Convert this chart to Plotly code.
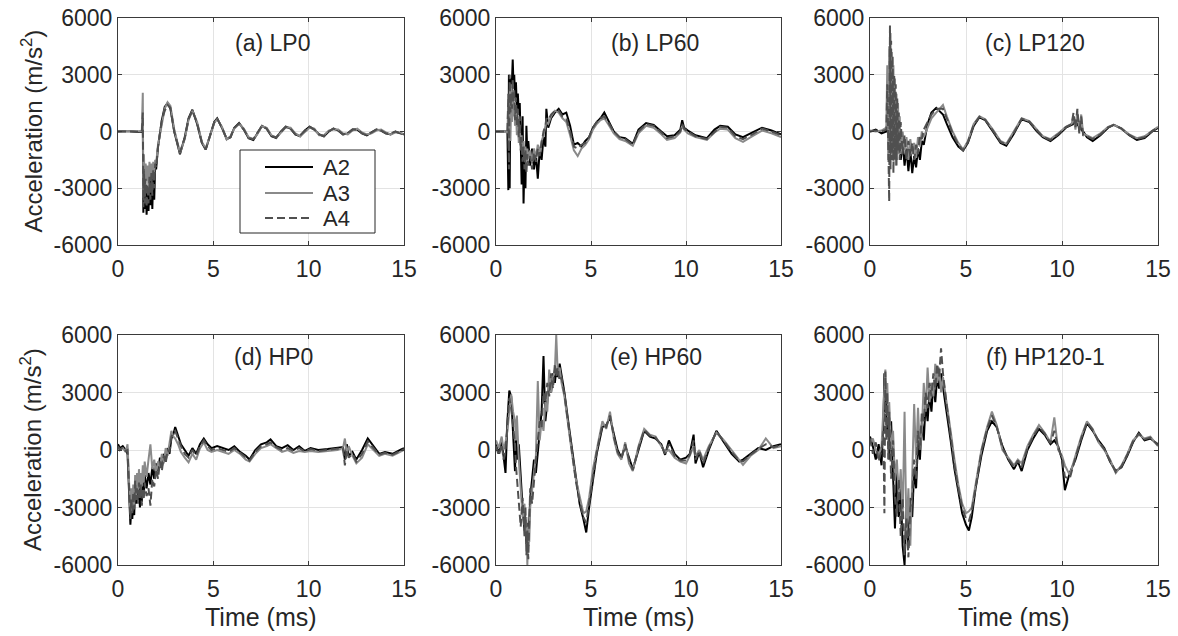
import plotly.graph_objects as go

# ---------------- data ----------------
series_names = ["A2", "A3", "A4"]
panel_titles = ["(a) LP0", "(b) LP60", "(c) LP120", "(d) HP0", "(e) HP60", "(f) HP120-1"]
x_ticks = [0, 5, 10, 15]
y_ticks = [-6000, -3000, 0, 3000, 6000]

LP0_t = [0, 0.5, 1.0, 1.25, 1.3, 1.33, 1.36, 1.4, 1.45, 1.5, 1.55, 1.6, 1.65, 1.7, 1.75, 1.8, 1.85, 1.9, 1.95,
         2.0, 2.1, 2.3, 2.45, 2.6, 2.75, 2.95, 3.25, 3.5, 3.7, 3.9, 4.15, 4.4, 4.6, 4.85, 5.05, 5.2, 5.45, 5.7,
         5.9, 6.1, 6.35, 6.6, 6.85, 7.1, 7.3, 7.55, 7.8, 8.05, 8.3, 8.55, 8.8, 9.05, 9.3, 9.55, 9.8, 10.05, 10.3,
         10.55, 10.8, 11.05, 11.3, 11.55, 11.8, 12.05, 12.3, 12.55, 12.8, 13.05, 13.3, 13.55, 13.8, 14.05, 14.3,
         14.55, 14.8, 15.0]
LP0_A2 = [0, 30, -20, 0,
          500, -4300, -2500, -4100, -2800,
          -4400, -3000, -4200, -2600, -3900,
          -2400, -4100, -2200, -3600, -1800,
          -2000, -800, 600, 1300, 1500,
          1200, 0, -1200, -300, 700,
          1150, 400, -600, -950, -100,
          500, 700, 200, -400, -300,
          200, 450, 100, -350, -450,
          -100, 300, 150, -250, -350,
          0, 250, 150, -150, -250,
          50, 250, 100, -150, -250,
          0, 150, 50, -150, -100,
          100, 100, -100, -200, -50,
          100, 50, -100, -150, 0,
          -100, -150]
LP0_A3 = [0, 20, 0, 30,
          2050, -3500, -1200, -2800, -1700,
          -2600, -1800, -3000, -1600, -2600,
          -1700, -2500, -1600, -2200, -1500,
          -1700, -700, 500, 1200, 1550,
          1350, 100, -1150, -400, 600,
          1100, 500, -550, -900, -150,
          450, 650, 250, -420, -250,
          150, 400, 150, -300, -400,
          -150, 280, 200, -200, -320,
          -50, 220, 200, -100, -250,
          0, 200, 150, -200, -200,
          50, 100, 100, -100, -150,
          50, 150, -50, -150, -100,
          50, 100, -50, -150, -50,
          -50, -150]
LP0_A4 = [0, 0, -30, 0,
          1000, -4000, -2000, -3800, -2500,
          -4000, -2800, -3800, -2400, -3600,
          -2200, -3400, -2000, -3000, -1700,
          -1900, -800, 600, 1100, 1400,
          1250, 0, -1100, -350, 650,
          1100, 450, -600, -950, -100,
          500, 680, 200, -380, -300,
          200, 430, 100, -350, -400,
          -100, 300, 150, -250, -300,
          0, 250, 150, -150, -200,
          50, 250, 100, -150, -250,
          0, 150, 50, -150, -100,
          100, 100, -100, -200, -50,
          100, 50, -100, -100, 0,
          -100, -150]

LP60_t = [0, 0.3, 0.6, 0.65, 0.68, 0.72, 0.76, 0.8, 0.84, 0.88, 0.92, 0.96, 1.0, 1.05, 1.1, 1.15, 1.2, 1.25,
          1.3, 1.35, 1.4, 1.45, 1.5, 1.55, 1.6, 1.65, 1.7, 1.8, 1.9, 2.0, 2.1, 2.2, 2.3, 2.4, 2.5, 2.6, 2.65,
          2.75, 2.9, 3.1, 3.3, 3.5, 3.7, 3.9, 4.1, 4.3, 4.5, 4.7, 4.9, 5.1, 5.3, 5.5, 5.7, 5.9, 6.2, 6.5, 6.8,
          7.2, 7.5, 7.9, 8.3, 8.7, 9.0, 9.4, 9.7, 9.8, 9.9, 10.1, 10.5, 11.1, 11.5, 11.8, 12.2, 12.6, 13.0,
          13.5, 14.0, 14.5, 15.0]
LP60_A2 = [0, 0, 0,
           -3100, 3000, -3000, 2800, 1500,
           3400, 3800, 2500, 3000, 1800,
           2600, 1200, 2000, 900, 1500,
           -500, -2800, 800, -3800, -1500,
           -3000, 300, -1200, -500, -1800,
           -900, -2000, -1200, -2500, -1000,
           -1500, -300, -800, 1200, 200,
           700, 1000, 1200, 900, 1000,
           300, -700, -600, -800, -500,
           -300, 200, 500, 700, 1000,
           600, 0, -300, -350, -650,
           100, 450, 350, 0, -250,
           -200, 100, 600, 200, 50,
           -200, -350, 100, 300, 250,
           -150, -300, -50, 200, 50,
           -150]
LP60_A3 = [0, 0, -50,
           1500, -1000, 2200, -500, 2500,
           500, 2000, 800, 1500, 300,
           1000, -200, 600, -600, 300,
           -800, -200, -1200, -500, -1500,
           -800, -1700, -900, -1400, -1000,
           -1600, -900, -1400, -700, -1100,
           -500, -200, 200, 500, 400,
           800, 1100, 1000, 700, 500,
           -200, -1000, -1300, -900, -700,
           -400, 100, 400, 600, 700,
           400, -100, -400, -500, -750,
           -100, 300, 200, -150, -450,
           -350, -50, 300, 100, -100,
           -300, -450, -50, 150, 100,
           -350, -550, -250, 50, -100,
           -300]
LP60_A4 = [0, 0, 0,
           2000, -2000, 3000, 1000, 2000,
           1200, 2800, 1500, 2200, 600,
           1800, 300, 1200, -300, 800,
           -1000, -300, -1600, -800, -2000,
           -1000, -2200, -1200, -1800, -1300,
           -2000, -1100, -1600, -900, -1300,
           -600, 0, 300, 700, 600,
           900, 1100, 1100, 800, 700,
           0, -800, -900, -700, -600,
           -300, 200, 500, 700, 800,
           500, 0, -300, -400, -700,
           0, 400, 300, -50, -350,
           -250, 0, 400, 150, 0,
           -250, -400, 0, 250, 200,
           -250, -400, -150, 150, 0,
           -200]

LP120_t = [0, 0.3, 0.6, 0.85, 0.9, 0.95, 1.0, 1.04, 1.07, 1.1, 1.14, 1.18, 1.22, 1.26, 1.3, 1.34, 1.38, 1.42,
           1.46, 1.5, 1.55, 1.6, 1.7, 1.8, 1.9, 2.0, 2.1, 2.2, 2.3, 2.4, 2.5, 2.6, 2.7, 2.8, 3.0, 3.2, 3.45, 3.8,
           4.0, 4.3, 4.6, 4.85, 5.1, 5.4, 5.7, 6.0, 6.4, 6.8, 7.1, 7.5, 7.9, 8.3, 8.7, 9.0, 9.4, 9.8, 10.2, 10.5,
           10.6, 10.7, 10.8, 10.9, 11.0, 11.1, 11.3, 11.6, 12.0, 12.4, 12.7, 13.1, 13.5, 13.9, 14.3, 14.7, 15.0]
LP120_A2 = [0, 100, -100, 0,
            500, -300, 1500, -800, 1200,
            -500, 800, -1200, 400, -600,
            200, -900, 0, -500, 300,
            -1000, -300, -1500, -600, -1800,
            -900, -2100, -1000, -2200, -1300,
            -1900, -900, -1500, -500, -700,
            400, 1000, 1250, 900, 400,
            -300, -800, -1000, -600, 300,
            750, 600, 0, -600, -750,
            -100, 650, 500, 0, -300,
            -500, -200, 200, 350, 400,
            600, 300, 500, 100, 0,
            -300, -500, -200, 200, 350,
            150, -200, -450, -350, 0,
            200]
LP120_A3 = [50, 0, 50, 200,
            3500, -1500, 4500, -1000, 5200,
            0, 4200, -1500, 3500, -1200,
            2800, -1800, 2000, -1500, 1500,
            -1200, 800, -1200, 0, -1000,
            -300, -1500, -400, -1200, -600,
            -1400, -300, -800, 0, -300,
            200, 700, 1000, 1400, 800,
            0, -600, -950, -500, 400,
            800, 650, 100, -500, -650,
            0, 700, 550, 100, -250,
            -400, -100, 250, 400, 800,
            100, 1100, 0, 900, -100,
            -200, -350, -100, 250, 350,
            150, -150, -350, -250, 50,
            250]
LP120_A4 = [0, 50, 0, 100,
            2500, -2500, -3700, 5600, -2000,
            4800, -1500, 4000, -2200, 3000,
            -1500, 2500, -1800, 1800, -1000,
            1000, -1500, 500, -1200, -200,
            -1500, -500, -1300, -600, -1500,
            -700, -1200, -200, -400, 100,
            500, 900, 1200, 1200, 700,
            -100, -700, -1000, -550, 350,
            780, 620, 50, -550, -700,
            -50, 680, 520, 50, -280,
            -450, -150, 230, 380, 1000,
            200, 1200, -100, 800, -200,
            -250, -400, -150, 220, 350,
            150, -180, -400, -300, 30,
            220]

HP0_t = [0, 0.1, 0.25, 0.4, 0.5, 0.55, 0.6, 0.65, 0.7, 0.75, 0.8, 0.85, 0.9, 0.95, 1.0, 1.05, 1.1, 1.15, 1.2,
         1.25, 1.3, 1.35, 1.4, 1.5, 1.6, 1.7, 1.8, 1.9, 2.0, 2.1, 2.2, 2.3, 2.4, 2.5, 2.6, 2.7, 2.8, 2.9, 3.0,
         3.15, 3.3, 3.5, 3.7, 3.9, 4.1, 4.3, 4.5, 4.7, 4.9, 5.2, 5.5, 5.8, 6.1, 6.4, 6.7, 6.9, 7.2, 7.5, 7.8,
         8.0, 8.3, 8.6, 8.9, 9.2, 9.5, 9.8, 10.1, 10.5, 11.0, 11.5, 11.8, 11.9, 12.0, 12.1, 12.3, 12.5, 12.8,
         13.1, 13.4, 13.7, 14.0, 14.4, 14.8, 15.0]
HP0_A2 = [300, 100, 200, 0,
          -200, -1500, -3200, -3900, -3000,
          -3600, -2600, -3400, -1800, -2800,
          -1600, -2600, -1900, -3000, -2100,
          -2700, -1500, -2400, -1300, -2000,
          -1200, -1800, -900, -1500, -700,
          -1100, -400, -900, -200, -600,
          100, -200, 600, 800, 1200,
          700, 300, 0, -300, 100,
          -200, 300, 600, 300, 100,
          200, 100, 0, 200, -100,
          -300, -500, 0, 300, 400,
          550, 200, 100, 250, 0,
          200, -50, 100, 0, 50,
          100, 150, -500, 300, -300,
          -100, -500, 0, 600, 200,
          -200, -100, -200, 0, 100]
HP0_A3 = [100, 0, 100, -100,
          300, -1000, -2400, -3300, -2000,
          -3200, -1800, -2900, -1300, -2500,
          -1200, -2200, -1000, -2000, -1200,
          -1900, -800, -1700, -600, -1400,
          -500, 300, -1000, -500, -1200,
          -600, -900, -200, -700, 100,
          -300, 500, 1000, 700, 600,
          300, -100, -400, -650, -200,
          -500, 100, 400, 0, -100,
          0, -100, -200, 0, -200,
          -500, -600, -200, 100, 200,
          300, 100, -100, 0, -150,
          -50, -100, -50, -100, -50,
          0, 100, 600, -200, 200,
          -300, -700, -400, 300, 0,
          -300, -200, -300, -100, 0]
HP0_A4 = [200, 0, 150, -50,
          0, -1200, -2800, -3600, -2500,
          -3300, -2200, -3100, -1600, -2600,
          -2000, -2800, -1700, -2500, -1800,
          -2900, -2000, -2600, -1700, -2400,
          -2000, -2900, -1500, -1900, -1000,
          -1500, -600, -1100, -300, -700,
          0, -100, 700, 900, 1000,
          600, 200, -200, -400, 0,
          -300, 200, 500, 200, 0,
          100, 0, -100, 100, -150,
          -400, -550, -100, 200, 300,
          400, 150, 0, 100, -50,
          100, -80, 50, -50, 0,
          50, 100, -800, 0, -400,
          -200, -600, -200, 450, 100,
          -250, -150, -250, -50, 50]

HP60_t = [0, 0.15, 0.3, 0.4, 0.5, 0.6, 0.7, 0.8, 0.9, 1.0, 1.05, 1.1, 1.2, 1.3, 1.4, 1.5, 1.55, 1.6, 1.65, 1.7,
          1.75, 1.8, 1.9, 2.0, 2.1, 2.2, 2.3, 2.4, 2.5, 2.6, 2.7, 2.8, 2.9, 3.0, 3.1, 3.17, 3.25, 3.35, 3.45, 3.6,
          3.8, 4.0, 4.2, 4.4, 4.6, 4.75, 4.9, 5.1, 5.3, 5.6, 5.8, 6.0, 6.2, 6.4, 6.6, 6.8, 7.0, 7.2, 7.5, 7.8,
          8.1, 8.4, 8.7, 8.9, 9.1, 9.4, 9.7, 10.0, 10.2, 10.4, 10.5, 10.7, 10.9, 11.2, 11.6, 12.0, 12.4, 12.8,
          13.0, 13.4, 13.8, 14.2, 14.6, 15.0]
HP60_A2 = [300, -200, 500, -300,
           -1200, 1500, 3100, 2800, 1000,
           -1100, 700, -500, 300, -1500,
           -3000, -4200, -3500, -4900, -3800,
           -5000, -3600, -2500, -1500, -500,
           -1200, 0, 1000, 2000, 4900,
           1500, 2500, 3500, 3000, 4000,
           3500, 4200, 3800, 4500, 3900,
           3000, 1500, 0, -1500, -2800,
           -3600, -4300, -3000, -1500, -200,
           1200, 1300, 1700, 800, 0,
           -400, 200, -400, -1000, 0,
           1000, 700, 600, 300, -250,
           500, -200, -500, -400, -200,
           800, -700, -100, -900, 0,
           1000, 400, -200, -600, -500,
           -200, 100, 0, 200, 300]
HP60_A3 = [500, 100, 700, 0,
           400, 1000, 2000, 2900, 2000,
           1500, 500, 1800, -500, -2000,
           -3500, -2800, -4500, -3500, -6000,
           -4000, -4800, -3000, -2000, -1000,
           -300, 3600, 500, 1500, 1000,
           2500, 2000, 4200, 3000, 3800,
           4200, 6000, 4000, 4300, 3500,
           2800, 1200, -200, -1500, -2500,
           -3300, -3200, -2500, -1000, 0,
           1500, 1100, 2000, 600, -200,
           -500, 400, -700, -1100, 200,
           1100, 800, 700, 200, -100,
           0, -400, -600, -700, -300,
           200, -300, 0, -500, 200,
           900, 500, 0, -500, -780,
           -300, 0, 600, 100, 200]
HP60_A4 = [200, -300, 300, -500,
           0, 1200, 2700, 2200, 1300,
           300, -800, -1500, -2500, -4000,
           -2500, -4500, -3000, -5500, -4200,
           -5700, -3800, -2000, -2800, -1500,
           -500, 500, 1500, 1200, 3000,
           2500, 3500, 2800, 4000, 3200,
           4500, 3800, 4300, 3600, 3800,
           2900, 1300, -100, -1600, -2700,
           -3500, -3800, -2800, -1300, -100,
           1300, 1200, 1800, 700, -100,
           -450, 300, -500, -1050, 100,
           1050, 750, 650, 250, -200,
           300, -300, -550, -550, -250,
           500, -500, -50, -700, 100,
           950, 450, -100, -550, -600,
           -250, 50, 300, 150, 250]

HP120_t = [0, 0.15, 0.3, 0.45, 0.6, 0.7, 0.75, 0.8, 0.85, 0.9, 0.95, 1.0, 1.1, 1.2, 1.3, 1.4, 1.5, 1.6, 1.7, 1.8,
           1.9, 2.0, 2.1, 2.2, 2.3, 2.4, 2.5, 2.6, 2.7, 2.8, 2.9, 3.0, 3.1, 3.2, 3.3, 3.4, 3.5, 3.6, 3.7, 3.8,
           4.0, 4.2, 4.4, 4.6, 4.8, 5.0, 5.15, 5.3, 5.5, 5.8, 6.1, 6.35, 6.6, 6.9, 7.2, 7.5, 7.7, 7.9, 8.2, 8.5,
           8.8, 9.1, 9.4, 9.6, 9.8, 10.0, 10.15, 10.4, 10.7, 11.0, 11.3, 11.6, 11.9, 12.2, 12.5, 12.8, 13.1,
           13.4, 13.7, 14.0, 14.3, 14.6, 15.0]
HP120_A2 = [700, 200, -500, 300,
            -800, 1500, 4000, 2000, 3500,
            1000, 2500, -500, 1500, -1500,
            -4100, -1000, -3500, -2000, -5000,
            -6000, -3000, -5000, -2500, -3500,
            -1000, -2000, 500, -500, 1500,
            500, 2500, 1500, 3000, 2000,
            3500, 2500, 3800, 3200, 4000,
            3300, 2000, 500, -1000, -2200,
            -3300, -3900, -4200, -3500, -2000,
            -300, 1000, 1500, 1200, 200,
            -500, -1000, -600, -1100, 0,
            600, 1100, 800, 300, 500,
            200, -500, -2100, -1200, -500,
            500, 1400, 1000, 500, 100,
            -600, -1100, -900, -300, 400,
            900, 500, 600, 300]
HP120_A3 = [400, 600, 0, -300,
            200, 2500, 3800, 4200, 2800,
            3500, 1500, 2500, 0, 1000,
            -1500, -500, -2500, -1000, -3500,
            2000, -4500, -2000, -5000, -1500,
            2400, -500, 2200, 0, 1000,
            3500, 2000, 4300, 2500, 3500,
            2800, 4500, 3500, 4300, 3000,
            3800, 2500, 1000, -500, -1800,
            -2800, -3300, -3200, -3000, -1800,
            0, 1200, 2000, 1300, 0,
            -400, -800, -500, -700, 200,
            800, 1300, 900, 400, 1700,
            0, -300, -800, -1300, -300,
            700, 1500, 1100, 400, 0,
            -500, -1200, -800, -200, 500,
            800, 600, 700, 200]
HP120_A4 = [600, -200, 400, -600,
            0, 1000, -3300, 4100, 500,
            3000, -500, 2000, -1500, 500,
            -2500, -3500, -1500, -4500, -2500,
            -5500, -3500, -5600, -3000, -2500,
            -500, -1500, 1000, 0, 2000,
            1500, 3000, 2200, 3500, 2800,
            4000, 3200, 4500, 3800, 5300,
            4000, 2300, 700, -800, -2000,
            -3000, -3600, -3700, -3200, -1900,
            -100, 1100, 1800, 1200, 100,
            -450, -900, -550, -900, 100,
            700, 1200, 850, 350, 1000,
            100, -400, -1400, -1500, -400,
            600, 1450, 1050, 450, 50,
            -550, -1150, -850, -250, 450,
            850, 550, 650, 250]

panels = [
    (LP0_t, [LP0_A2, LP0_A3, LP0_A4]),
    (LP60_t, [LP60_A2, LP60_A3, LP60_A4]),
    (LP120_t, [LP120_A2, LP120_A3, LP120_A4]),
    (HP0_t, [HP0_A2, HP0_A3, HP0_A4]),
    (HP60_t, [HP60_A2, HP60_A3, HP60_A4]),
    (HP120_t, [HP120_A2, HP120_A3, HP120_A4]),
]

# ---------------- layout / style ----------------
W, H = 1178, 636
OFF = 0  # page body margin is removed below, so figure pixels = page pixels
FONT = "Liberation Sans, Arial, Helvetica, sans-serif"
TXT = "#262626"
col_px = [(118, 404), (496, 781), (870, 1158)]
row_px = [(18, 245), (335, 565)]
line_styles = [
    dict(color="#000000", width=2.0, dash="solid"),
    dict(color="#8a8a8a", width=2.0, dash="solid"),
    dict(color="#505050", width=2.0, dash="8px,4px"),
]


def px(x):
    return (x - OFF) / W


def py(y):
    return 1 - (y - OFF) / H


fig = go.Figure()
layout = dict(
    width=W, height=H, margin=dict(l=0, r=0, t=0, b=0, pad=0, autoexpand=False),
    paper_bgcolor="white", plot_bgcolor="white",
    font=dict(family=FONT, color=TXT, size=23),
    showlegend=False,
    annotations=[], shapes=[],
)

for i, (t, ys) in enumerate(panels):
    r, c = divmod(i, 3)
    k = i + 1
    xname = "xaxis" if k == 1 else f"xaxis{k}"
    yname = "yaxis" if k == 1 else f"yaxis{k}"
    xd = [px(col_px[c][0]), px(col_px[c][1])]
    yd = [py(row_px[r][1]), py(row_px[r][0])]
    common = dict(showline=True, linecolor="#3a3a3a", linewidth=1, mirror="ticks",
                  ticks="inside", ticklen=4, tickcolor="#3a3a3a", tickwidth=1,
                  showgrid=True, gridcolor="#e3e3e3", gridwidth=1, zeroline=False,
                  automargin=False, ticklabeloverflow="allow",
                  tickfont=dict(size=23, family=FONT, color=TXT))
    layout[xname] = dict(domain=xd, range=[0, 15], tickvals=x_ticks,
                         ticktext=[str(v) for v in x_ticks], ticklabelstandoff=3,
                         anchor=f"y{k}" if k > 1 else "y", **common)
    layout[yname] = dict(domain=yd, range=[-6000, 6000], tickvals=y_ticks,
                         ticktext=[str(v) for v in y_ticks], ticklabelstandoff=0,
                         anchor=f"x{k}" if k > 1 else "x", **common)
    for j, yv in enumerate(ys):
        fig.add_trace(go.Scatter(
            x=t, y=yv, mode="lines", name=series_names[j],
            line=line_styles[j], showlegend=False,
            xaxis=f"x{k}" if k > 1 else "x", yaxis=f"y{k}" if k > 1 else "y",
        ))
    # panel title
    title_cx = [272, 655, 1035, 273, 656, 1045][i]
    title_cy = [43, 43, 43, 357, 357, 357][i]
    layout["annotations"].append(dict(
        text=panel_titles[i], x=px(title_cx), y=py(title_cy), xref="paper", yref="paper",
        xanchor="center", yanchor="middle", showarrow=False,
        font=dict(size=23, family=FONT, color=TXT)))
    if r == 1:
        layout["annotations"].append(dict(
            text="Time (ms)", x=px((col_px[c][0] + col_px[c][1]) / 2), y=py(617),
            xref="paper", yref="paper", xanchor="center", yanchor="middle", showarrow=False,
            font=dict(size=25, family=FONT, color=TXT)))
    if c == 0:
        layout["annotations"].append(dict(
            text="Acceleration (m/s<sup>2</sup>)", x=px(31),
            y=py((row_px[r][0] + row_px[r][1]) / 2),
            xref="paper", yref="paper", xanchor="center", yanchor="middle", textangle=-90,
            showarrow=False, font=dict(size=24, family=FONT, color=TXT)))

# legend box in panel (a), drawn from the series styles
leg_box = (240, 150, 375, 233)
leg_rows = [167, 193, 218]
layout["shapes"].append(dict(type="rect", xref="paper", yref="paper",
                             x0=px(leg_box[0]), x1=px(leg_box[2]),
                             y0=py(leg_box[3]), y1=py(leg_box[1]),
                             line=dict(color=TXT, width=1), fillcolor="white", layer="above"))
for j, name in enumerate(series_names):
    st = line_styles[j]
    layout["shapes"].append(dict(type="line", xref="paper", yref="paper",
                                 x0=px(265), x1=px(313), y0=py(leg_rows[j]), y1=py(leg_rows[j]),
                                 line=dict(color=st["color"], width=st["width"], dash=st["dash"]),
                                 layer="above"))
    layout["annotations"].append(dict(
        text=name, x=px(321), y=py(leg_rows[j]), xref="paper", yref="paper",
        xanchor="left", yanchor="middle", showarrow=False,
        font=dict(size=22, family=FONT, color=TXT)))

fig.update_layout(**layout)
fig.write_html("out.html",
               config={"displayModeBar": False},
               post_script="document.body.style.margin='0px';document.body.style.overflow='hidden';")
